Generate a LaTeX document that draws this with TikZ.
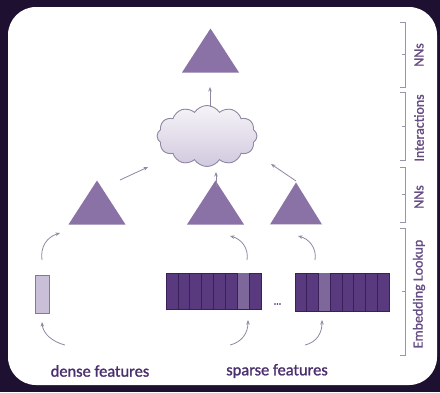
\documentclass[tikz,border=0pt]{standalone}
\usepackage{fontspec}
\setmainfont{Carlito}[FakeBold=1.2]
\usetikzlibrary{shapes.geometric,shapes.symbols,arrows.meta}
\definecolor{bgdark}{HTML}{1E1030}
\definecolor{tri}{HTML}{8A72A6}
\definecolor{cell}{HTML}{5A3A7E}
\definecolor{cellline}{HTML}{3A2058}
\definecolor{cellhi}{HTML}{7E679B}
\definecolor{dense}{HTML}{C9BFD8}
\definecolor{arrowc}{HTML}{8F86A2}
\definecolor{txt}{HTML}{4B2E6E}
\definecolor{brk}{HTML}{9A94A6}
\tikzset{
  trinode/.style={isosceles triangle, isosceles triangle stretches, shape border rotate=90,
    fill=tri, draw=none, minimum height=44bp, minimum width=57bp, inner sep=0pt},
  arr/.style={draw=arrowc, line width=0.8pt, -{Stealth[length=4.5pt,width=3.5pt]}},
  lbl/.style={text=txt, font=\fontsize{16.5}{18}\selectfont},
  sidelbl/.style={text=txt!85!white, font=\fontsize{14}{16}\selectfont, rotate=90},
  brack/.style={draw=brk, line width=0.6pt},
  blockbox/.style={draw=cellline, fill=cell, line width=0.6pt, minimum height=36bp, inner sep=0pt}
}
\begin{document}
\begin{tikzpicture}[x=1bp,y=-1bp]
\useasboundingbox (0,0) rectangle (440,392);
\fill[bgdark] (0,0) rectangle (440,392);
\fill[white, rounded corners=28bp] (8,7) rectangle (437,385);

% triangles
\node[trinode] (t0) at (210.5,57) {};
\node[trinode] (t1) at (97,209) {};
\node[trinode] (t2) at (215.5,209) {};
\node[trinode, minimum width=52bp, minimum height=42bp] (t3) at (296,210) {};

% cloud
\node[cloud, cloud puffs=12, cloud puff arc=115, aspect=1.65, minimum width=100bp, minimum height=61bp,
  inner sep=0pt, draw=arrowc, line width=0.9pt, top color=white!92!tri, bottom color=dense!85!white] (cl) at (207,136) {};

% arrows between triangles and cloud
\coordinate (c0a) at (210,107);
\coordinate (c0b) at (210,87);
\draw[arr] (c0a) -- (c0b);
\coordinate (l1a) at (120,180); \coordinate (l1b) at (148,167);
\draw[arr] (l1a) -- (l1b);
\coordinate (l2a) at (216,187); \coordinate (l2b) at (216,172);
\draw[arr] (l2a) -- (l2b);
\coordinate (l3a) at (296,181); \coordinate (l3b) at (271,164);
\draw[arr] (l3a) -- (l3b);

% dense feature box
\node[draw=tri, fill=dense, line width=0.7pt, minimum width=14bp, minimum height=38bp, inner sep=0pt] (dn) at (42,294) {};

% sparse blocks
\node[blockbox, minimum width=95bp] (sp1) at (213.5,291) {};
\fill[cellhi] (237.3,273.3) rectangle (249.1,308.7);
\foreach \i in {1,...,7} \draw[cellline, line width=0.6pt] (166+\i*11.875,273) -- (166+\i*11.875,309);
\node[blockbox, minimum width=94bp, minimum height=38bp] (sp2) at (342,292) {};
\fill[cellhi] (318.6,273.3) rectangle (330.1,310.7);
\foreach \i in {1,...,7} \draw[cellline, line width=0.6pt] (295+\i*11.75,273) -- (295+\i*11.75,311);
\node[text=txt, font=\fontsize{10}{10}\selectfont] (dots) at (277.5,304) {...};

% curved arrows upper
\coordinate (u1a) at (42,260); \coordinate (u1b) at (60,233);
\draw[arr] (u1a) .. controls (40,247) and (47,237) .. (u1b);
\coordinate (u2a) at (247,260); \coordinate (u2b) at (230,236);
\draw[arr] (u2a) .. controls (249,248) and (241,239) .. (u2b);
\coordinate (u3a) at (315,260); \coordinate (u3b) at (298,236);
\draw[arr] (u3a) .. controls (317,248) and (309,239) .. (u3b);

% curved arrows lower
\coordinate (d1a) at (65,345); \coordinate (d1b) at (42,322);
\draw[arr] (d1a) .. controls (53,342) and (43,334) .. (d1b);
\coordinate (d2a) at (230,345); \coordinate (d2b) at (248,320);
\draw[arr] (d2a) .. controls (242,342) and (248,333) .. (d2b);
\coordinate (d3a) at (305,345); \coordinate (d3b) at (322,320);
\draw[arr] (d3a) .. controls (317,342) and (322,333) .. (d3b);

% bottom labels
\node[lbl] (dl) at (100,371) {dense features};
\node[lbl] (sl) at (277,371) {sparse features};

% side brackets
\draw[brack] (400,22) -- (405,22) -- (405,87) -- (400,87);
\draw[brack] (402,54.5) -- (405,54.5);
\draw[brack] (400,92) -- (405,92) -- (405,160) -- (400,160);
\draw[brack] (402,126) -- (405,126);
\draw[brack] (400,167) -- (405,167) -- (405,222) -- (400,222);
\draw[brack] (402,194.5) -- (405,194.5);
\draw[brack] (400,228) -- (405,228) -- (405,355) -- (400,355);
\draw[brack] (402,291.5) -- (405,291.5);

\node[sidelbl] (s1) at (419,55) {NNs};
\node[sidelbl] (s2) at (419,128) {Interactions};
\node[sidelbl] (s3) at (419,197) {NNs};
\node[sidelbl] (s4) at (419,294) {Embedding Lookup};
\end{tikzpicture}
\end{document}
